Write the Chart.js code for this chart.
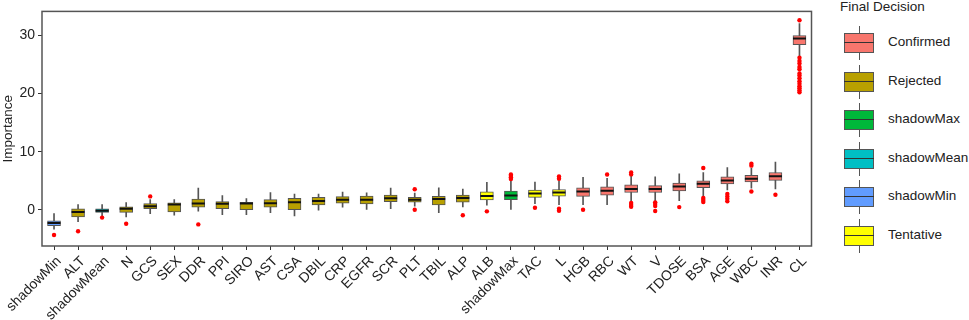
<!DOCTYPE html>
<html lang="en">
<head>
    <meta charset="UTF-8">
    <script src="https://cdn.jsdelivr.net/npm/chart.js"></script>
    <title>Boruta importance</title>
    <style>
        body { margin: 0; background: #fff; font-family: "Liberation Sans", Arial, sans-serif; }
        #wrap { position: relative; width: 969px; height: 320px; }
        #myChart { position: absolute; left: 0; top: 0; }
        .legend { position: absolute; left: 840px; top: 0; color: #222; font-size: 13.5px; }
        .legend .title { position: absolute; left: 0; top: -1px; white-space: nowrap; }
        .item { position: absolute; left: 4px; width: 120px; height: 34px; }
        .item .wh { position: absolute; left: 14.5px; top: 0; width: 1px; height: 34px; background: #555; }
        .item .bx { position: absolute; left: 0; top: 7px; width: 28px; height: 18px; border: 1px solid #555; }
        .item .md { position: absolute; left: 0; top: 16px; width: 30px; height: 1px; background: #333; }
        .item span { position: absolute; left: 44px; top: 8px; white-space: nowrap; }
    </style>
</head>
<body>
    <div id="wrap">
        <canvas id="myChart" width="820" height="320"></canvas>
        <div class="legend" id="legend">
            <div class="title">Final Decision</div>
        </div>
    </div>
    <script>
        const categories = ['shadowMin', 'ALT', 'shadowMean', 'N', 'GCS', 'SEX', 'DDR', 'PPI', 'SIRO', 'AST', 'CSA',
            'DBIL', 'CRP', 'EGFR', 'SCR', 'PLT', 'TBIL', 'ALP', 'ALB', 'shadowMax', 'TAC', 'L', 'HGB', 'RBC', 'WT',
            'V', 'TDOSE', 'BSA', 'AGE', 'WBC', 'INR', 'CL'];
        const decision = ['shadowMin', 'Rejected', 'shadowMean', 'Rejected', 'Rejected', 'Rejected', 'Rejected', 'Rejected',
            'Rejected', 'Rejected', 'Rejected', 'Rejected', 'Rejected', 'Rejected', 'Rejected', 'Rejected', 'Rejected',
            'Rejected', 'Tentative', 'shadowMax', 'Tentative', 'Tentative', 'Confirmed', 'Confirmed', 'Confirmed',
            'Confirmed', 'Confirmed', 'Confirmed', 'Confirmed', 'Confirmed', 'Confirmed', 'Confirmed'];
        const whiskerLow = [-3.3, -2.0, -1.04, -1.2, -0.64, -0.92, -0.2, -0.81, -0.81, -0.48, -1.04,
            -0.03, 0.48, 0.08, 0.2, 0.64, -0.48, 0.53, 0.81, 0.08, 1.09, 0.92, 0.92, 0.92, 1.48,
            1.43, 1.6, 2.32, 3.45, 3.73, 3.61, 26.3];
        const q1 = [-2.72, -1.2, -0.42, -0.42, 0.2, -0.36, 0.48, 0.2, 0.03, 0.48, 0.03,
            0.87, 1.15, 1.04, 1.43, 1.31, 0.87, 1.31, 1.71, 1.76, 2.15, 2.38, 2.32, 2.55, 2.99,
            2.99, 3.28, 3.83, 4.45, 4.79, 5.07, 28.37];
        const median = [-2.27, -0.36, -0.14, 0.2, 0.64, 0.92, 1.09, 1.04, 1.09, 1.15, 1.31,
            1.54, 1.76, 1.76, 1.99, 1.76, 1.88, 2.05, 2.38, 2.49, 2.83, 2.99, 3.16, 3.28, 3.61,
            3.61, 4.0, 4.5, 5.07, 5.35, 5.8, 29.44];
        const q3 = [-1.88, 0.2, 0.2, 0.53, 1.09, 1.2, 1.88, 1.43, 1.31, 1.76, 1.99,
            2.15, 2.27, 2.38, 2.55, 2.15, 2.32, 2.55, 3.11, 3.23, 3.39, 3.5, 3.78, 3.95, 4.29,
            4.17, 4.62, 5.01, 5.69, 5.92, 6.42, 29.95];
        const whiskerHigh = [-0.64, 0.92, 0.92, 1.26, 1.76, 1.76, 3.73, 2.44, 1.93, 2.99, 2.72,
            2.72, 3.06, 2.94, 3.73, 2.89, 3.78, 3.56, 4.74, 4.9, 4.79, 5.0, 5.58, 5.41, 5.8,
            5.69, 6.19, 6.42, 7.26, 7.14, 8.2, 32.0];
        const outliers = [[-4.3], [-3.67], [-1.32], [-2.38], [2.32], [], [-2.49], [], [], [], [],
            [], [], [], [], [3.56, 0.03], [], [-0.92], [-0.25], [6.1, 5.85, 5.6, 5.3], [0.37],
            [5.75, 5.35, 0.2, -0.15], [0.03], [6.08], [6.42, 6.1, 1.2, 0.85, 0.53], [1.3, 1.0, 0.65, -0.2],
            [0.48], [7.2, 2.05, 1.7, 1.35], [2.75, 2.3, 1.9, 1.5], [7.93, 7.6, 3.16], [2.6],
            [32.57, 26.13, 25.58, 25.13, 24.57, 24.17, 23.45, 23.07, 22.61, 22.1, 21.66, 21.26, 20.92, 20.54, 20.2]];
        const yTicks = [0, 10, 20, 30];
        const decisionNames = ['Confirmed', 'Rejected', 'shadowMax', 'shadowMean', 'shadowMin', 'Tentative'];
        const decisionColors = ['#F8766D', '#B8A000', '#00B83A', '#00BFC4', '#619CFF', '#FFFF00'];

        const colorOf = d => decisionColors[decisionNames.indexOf(d)];
        const outlierPoints = [];
        categories.forEach((c, i) => outliers[i].forEach(v => outlierPoints.push({ x: c, y: v })));

        // panel border like ggplot
        const borderPlugin = {
            id: 'panelBorder',
            afterDraw(chart) {
                const { ctx, chartArea: a } = chart;
                ctx.save();
                ctx.strokeStyle = '#555';
                ctx.lineWidth = 1.5;
                ctx.strokeRect(a.left, a.top, a.right - a.left, a.bottom - a.top);
                ctx.restore();
            }
        };

        const font = { family: '"Liberation Sans", Arial, sans-serif', size: 14 };
        const ctx = document.getElementById('myChart').getContext('2d');
        new Chart(ctx, {
            type: 'bar',
            data: {
                labels: categories,
                datasets: [
                    {
                        type: 'scatter', order: 0, data: outlierPoints,
                        pointRadius: 2.2, pointBackgroundColor: '#FF0000', pointBorderWidth: 0
                    },
                    {
                        type: 'scatter', order: 1,
                        data: categories.map((c, i) => ({ x: c, y: median[i] })),
                        pointStyle: 'line', pointRadius: 6.5, pointBorderWidth: 2, pointBorderColor: '#111'
                    },
                    {
                        order: 2, grouped: false, barThickness: 13,
                        data: categories.map((c, i) => [q1[i], q3[i]]),
                        backgroundColor: decision.map(colorOf),
                        borderColor: '#555', borderWidth: 1, borderSkipped: false
                    },
                    {
                        order: 3, grouped: false, barThickness: 1,
                        data: categories.map((c, i) => [whiskerLow[i], whiskerHigh[i]]),
                        backgroundColor: '#555'
                    }
                ]
            },
            options: {
                responsive: false,
                animation: false,
                layout: { padding: { top: 7, right: 8, left: 0, bottom: 0 } },
                plugins: { legend: { display: false }, tooltip: { enabled: false } },
                scales: {
                    x: {
                        type: 'category',
                        offset: true,
                        afterFit: s => { s.height = 74; },
                        grid: { offset: false, drawOnChartArea: false, drawTicks: true, tickLength: 4, color: '#333' },
                        border: { display: false },
                        ticks: { autoSkip: false, minRotation: 45, maxRotation: 45, color: '#222', font, padding: 3, labelOffset: 5 }
                    },
                    y: {
                        min: -6.2, max: 34.1,
                        afterFit: s => { s.width = 42; },
                        afterBuildTicks: s => { s.ticks = yTicks.map(v => ({ value: v })); },
                        grid: { drawOnChartArea: false, drawTicks: true, tickLength: 4, color: '#333' },
                        border: { display: false },
                        ticks: { color: '#222', font, padding: 3 },
                        title: { display: true, text: 'Importance', color: '#222', font: { family: font.family, size: 13.5 }, padding: 0 }
                    }
                }
            },
            plugins: [borderPlugin]
        });

        // legend with boxplot glyphs
        const legend = document.getElementById('legend');
        decisionNames.forEach((name, i) => {
            const item = document.createElement('div');
            item.className = 'item';
            item.style.top = (26 + i * 38.5) + 'px';
            item.innerHTML = '<div class="wh"></div><div class="bx" style="background:' + decisionColors[i] +
                '"></div><div class="md"></div><span>' + name + '</span>';
            legend.appendChild(item);
        });
    </script>
</body>
</html>
